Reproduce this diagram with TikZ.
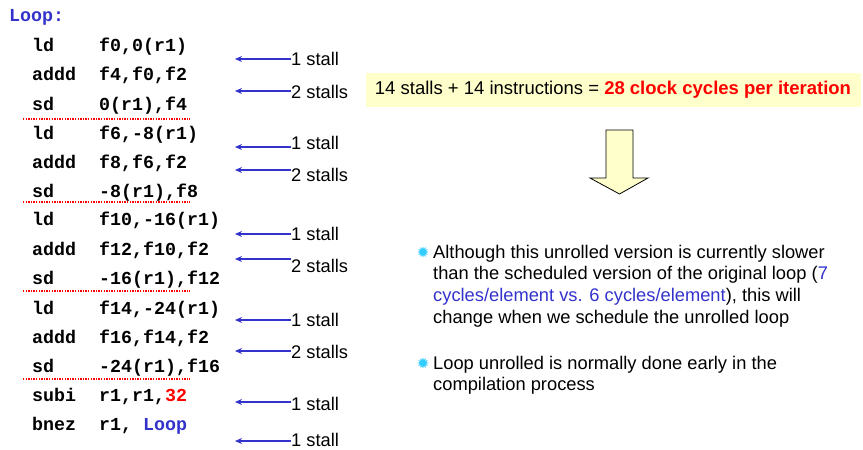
\documentclass[tikz,border=0pt]{standalone}
\usepackage{fontspec}
\setmainfont{Liberation Sans}
\setmonofont{Liberation Mono}
\usetikzlibrary{arrows.meta,shapes.geometric}
\definecolor{codeblue}{HTML}{3333CC}
\definecolor{pale}{HTML}{FFFFCC}
\definecolor{starcyan}{HTML}{33CCFF}
\definecolor{redx}{HTML}{FF0000}
\begin{document}
\begin{tikzpicture}[x=1pt,y=-1pt,
  code/.style={anchor=base west, inner sep=0pt, font=\fontsize{18.3}{18.3}\selectfont\ttfamily\bfseries},
  lbl/.style={anchor=base west, inner sep=0pt, font=\fontsize{18.3}{18.3}\selectfont},
  stallarrow/.style={draw=codeblue, line width=1.5pt, -{Stealth[length=7pt,width=6pt]}},
  sepline/.style={draw=redx, line width=1.2pt, dash pattern=on 1.3pt off 1.3pt},
  bulletstar/.style={star, star points=12, star point ratio=1.7, fill=starcyan, minimum size=11pt, inner sep=0pt},
  pline/.style={anchor=base west, inner sep=0pt, font=\fontsize{18.3}{18.3}\selectfont}
]
\useasboundingbox (0,0) rectangle (863,450);

\node[code, text=codeblue] (loop) at (9,21) {Loop:};

\foreach \i/\yy/\op/\arg in {
  1/45/ld/{f0,0(r1)},
  2/74/addd/{f4,f0,f2},
  3/104/sd/{0(r1),f4},
  4/133/ld/{f6,-8(r1)},
  5/162/addd/{f8,f6,f2},
  6/191/sd/{-8(r1),f8},
  7/219/ld/{f10,-16(r1)},
  8/249/addd/{f12,f10,f2},
  9/278/sd/{-16(r1),f12},
  10/308/ld/{f14,-24(r1)},
  11/337/addd/{f16,f14,f2},
  12/366/sd/{-24(r1),f16},
  13/395/subi/{r1,r1,\textcolor{redx}{32}},
  14/424/bnez/{r1, \textcolor{codeblue}{Loop}}} {
  \node[code] (op\i) at (32,\yy+6) {\op};
  \node[code] (arg\i) at (99,\yy+6) {\arg};
}

\draw[sepline] (23,119) -- (190,119);
\draw[sepline] (23,202) -- (190,202);
\draw[sepline] (23,291) -- (190,291);
\draw[sepline] (23,379) -- (190,379);

\foreach \i/\ay/\ly/\t in {
  1/59/59/1 stall,
  2/91/92/2 stalls,
  3/147/143/1 stall,
  4/170/175/2 stalls,
  5/234/234/1 stall,
  6/259/266/2 stalls,
  7/320/320/1 stall,
  8/351/352/2 stalls,
  9/402/404/1 stall,
  10/441/440/1 stall} {
  \coordinate (tip\i) at (235,\ay);
  \node[lbl] (st\i) at (291,\ly+6.5) {\t};
  \draw[stallarrow] (st\i.west |- tip\i) -- (tip\i);
}

\node[fill=pale, minimum width=495pt, minimum height=34pt, inner sep=0pt,
      font=\fontsize{18.5}{18.5}\selectfont] (sum) at (613,90)
  {14 stalls + 14 instructions = \textcolor{redx}{\bfseries 28 clock cycles per iteration}};

\draw[fill=pale, draw=black, line width=0.8pt]
  (606,130) -- (633,130) -- (633,178) -- (648,178) -- (619.5,194) -- (590,178) -- (606,178) -- cycle;

\node[bulletstar] (b1) at (423,252) {};
\node[pline] (p1) at (433,258.5) {Although this unrolled version is currently slower};
\node[pline] (p2) at (433,279.5) {than the scheduled version of the original loop (\textcolor{codeblue}{7}};
\node[pline] (p3) at (433,301.5) {\textcolor{codeblue}{cycles/element vs. 6 cycles/element}), this will};
\node[pline] (p4) at (433,323.5) {change when we schedule the unrolled loop};

\node[bulletstar] (b2) at (423,363) {};
\node[pline] (q1) at (433,369.5) {Loop unrolled is normally done early in the};
\node[pline] (q2) at (433,390.5) {compilation process};
\end{tikzpicture}
\end{document}
